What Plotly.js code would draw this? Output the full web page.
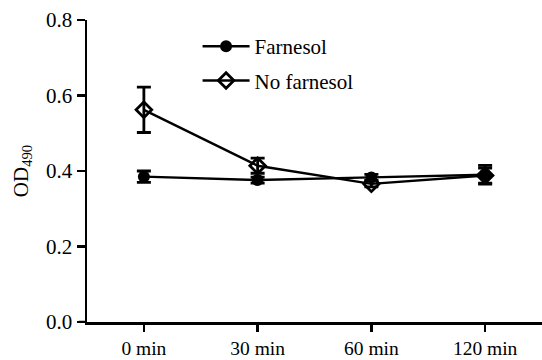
<!DOCTYPE html>
<html>
<head>
<meta charset="utf-8">
<script src="https://cdn.plot.ly/plotly-3.0.1.min.js"></script>
<style>html,body{margin:0;padding:0;background:#fff;}#chart{width:542px;height:360px;}</style>
</head>
<body>
<div id="chart"></div>
<script>
const categories = ["0 min", "30 min", "60 min", "120 min"];
const farnesol = [0.385, 0.376, 0.383, 0.390];
const farnesolErr = [0.015, 0.008, 0.008, 0.025];
const noFarnesol = [0.562, 0.414, 0.366, 0.388];
const noFarnesolErr = [0.060, 0.020, 0.008, 0.020];
const yTicks = [0.0, 0.2, 0.4, 0.6, 0.8];

const font = {family: "Liberation Serif", size: 21, color: "#000"};
const xTickFont = {family: "Liberation Serif", size: 19.5, color: "#000"};
const legendFont = {family: "Liberation Serif", size: 21, color: "#000"};

const traces = [
  {
    x: categories, y: farnesol, name: "Farnesol", type: "scatter", mode: "lines+markers",
    legendgroup: "a",
    line: {color: "#000", width: 2.4},
    marker: {symbol: "circle", size: 12, color: "#000"},
    error_y: {type: "data", array: farnesolErr, visible: true, color: "#000", thickness: 2.8, width: 7}
  },
  {
    x: categories, y: noFarnesol, name: "No farnesol", type: "scatter", mode: "lines+markers",
    legendgroup: "b",
    line: {color: "#000", width: 2.4},
    marker: {symbol: "diamond-open", size: 12, color: "#000", line: {width: 2.8, color: "#000"}},
    error_y: {type: "data", array: noFarnesolErr, visible: true, color: "#000", thickness: 2.8, width: 7}
  }
];

const layout = {
  width: 542, height: 360,
  margin: {l: 87, r: 0, t: 20, b: 38},
  paper_bgcolor: "#fff", plot_bgcolor: "#fff",
  font: font,
  showlegend: true,
  legend: {x: 0.243, y: 0.98, xanchor: "left", yanchor: "top", font: legendFont, bgcolor: "rgba(0,0,0,0)",
           traceorder: "grouped", tracegroupgap: 4, itemwidth: 47},
  xaxis: {
    type: "category", categoryorder: "array", categoryarray: categories,
    range: [-0.5, 3.5],
    showline: true, linecolor: "#000", linewidth: 2.5,
    ticks: "outside", ticklen: 7, tickwidth: 2.5, tickcolor: "#000",
    showgrid: false, zeroline: false, tickfont: xTickFont, fixedrange: true
  },
  yaxis: {
    range: [0, 0.8], tickvals: yTicks, ticktext: yTicks.map(v => v.toFixed(1)),
    showline: true, linecolor: "#000", linewidth: 2.5,
    ticks: "outside", ticklen: 8, tickwidth: 2.5, tickcolor: "#000",
    showgrid: false, zeroline: false, tickfont: font,
    title: {text: "OD<sub>490</sub>", font: font, standoff: 12}
  },
  shapes: [
    {type: "line", xref: "paper", yref: "y", x0: -0.018, x1: 0, y0: 0, y1: 0, line: {color: "#000", width: 2.5}}
  ]
};

Plotly.newPlot("chart", traces, layout, {displayModeBar: false, staticPlot: true});
</script>
</body>
</html>
